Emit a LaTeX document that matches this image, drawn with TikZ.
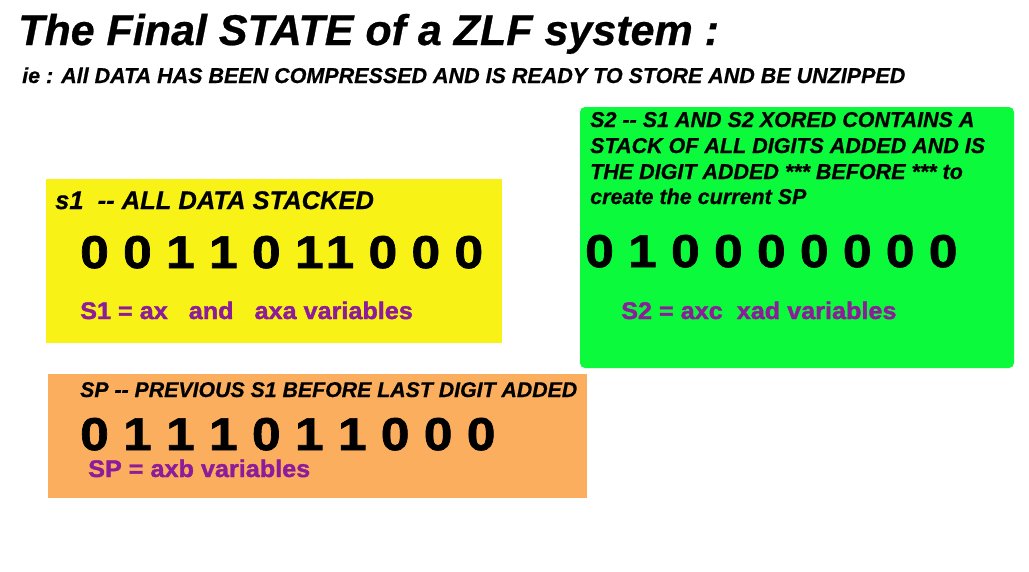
\documentclass[tikz,border=0pt]{standalone}
\usepackage{fontspec}
\setmainfont{Liberation Sans}
\newfontfamily\headfont[FakeBold=0.6]{Liberation Sans Bold Italic}
\newfontfamily\blackfont[FakeBold=1.5, FakeStretch=1.12]{Liberation Sans Bold}
\newfontfamily\varfont[FakeBold=1.5, FakeStretch=1.05]{Liberation Sans Bold}
\definecolor{stackyellow}{HTML}{F9F216}
\definecolor{xorgreen}{HTML}{0BFA3B}
\definecolor{prevorange}{HTML}{FBAE5D}
\definecolor{varpurple}{HTML}{8C1C9A}
\tikzset{
  heading/.style={font=\fontsize{21.5}{25.7}\headfont},
  digits/.style={font=\fontsize{46}{46}\blackfont},
  varline/.style={font=\fontsize{24}{25}\varfont, text=varpurple},
}
\begin{document}
\begin{tikzpicture}[x=1pt, y=-1pt, every node/.style={inner sep=0pt, anchor=base west}]
    \useasboundingbox (0,0) rectangle (1029,571);

    % Titel
    \node[font=\fontsize{43}{43}\headfont] (title) at (18,45) {The Final STATE of a ZLF system :};
    \node[heading] (subtitle) at (22,83) {ie : All DATA HAS BEEN COMPRESSED AND IS READY TO STORE AND BE UNZIPPED};

    % Kasten S1
    \fill[stackyellow] (46,179) rectangle (502,343);
    \node[heading, font=\fontsize{25.5}{25}\headfont] (s1head) at (55,209) {s1\ \ -{}- ALL DATA STACKED};
    \node[digits] (s1bits) at (80,268) {0 0 1 1 0 1\kern2pt 1 0 0 0};
    \node[varline] (s1vars) at (80,319) {S1 = ax\ \ \ and\ \ \ axa variables};

    % Kasten S2
    \fill[xorgreen, rounded corners=5pt] (580,107) rectangle (1014,368);
    \node[heading] (s2head1) at (590,127) {S2 -{}- S1 AND S2 XORED CONTAINS A};
    \node[heading] (s2head2) at (590,153) {STACK OF ALL DIGITS ADDED AND IS};
    \node[heading] (s2head3) at (590,179) {THE DIGIT ADDED *** BEFORE *** to};
    \node[heading] (s2head4) at (590,204) {create the current SP};
    \node[digits] (s2bits) at (585,267) {0 1 0 0 0 0 0 0 0};
    \node[varline] (s2vars) at (621,319) {S2 = axc\ \ xad variables};

    % Kasten SP
    \fill[prevorange] (48,374) rectangle (587,498);
    \node[heading, font=\fontsize{21.3}{25}\headfont] (sphead) at (80,397) {SP -{}- PREVIOUS S1 BEFORE LAST DIGIT ADDED};
    \node[digits] (spbits) at (80,450) {0 1 1 1 0 1 1 0 0 0};
    \node[varline] (spvars) at (88,477) {SP = axb variables};
\end{tikzpicture}
\end{document}
